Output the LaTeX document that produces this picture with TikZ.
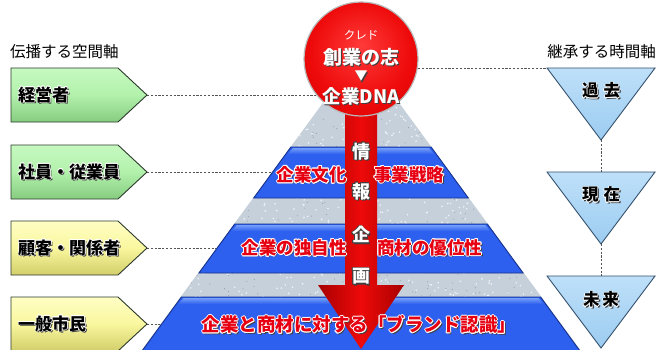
\documentclass[tikz,border=0pt]{standalone}
\usepackage{fontspec}
\newfontfamily\jp{Noto Sans CJK JP}
\usetikzlibrary{calc}
\definecolor{gfill}{HTML}{B2F1AC}
\definecolor{glight}{HTML}{C6F9C0}
\definecolor{gdark}{HTML}{86CC80}
\definecolor{yfill}{HTML}{F9F79E}
\definecolor{ylight}{HTML}{FFFEC4}
\definecolor{ydark}{HTML}{D2CE6A}
\definecolor{boxedge}{HTML}{2C3A2C}
\definecolor{tfill}{HTML}{9CCCF1}
\definecolor{tlight}{HTML}{BEE0F9}
\definecolor{tedge}{HTML}{34506C}
\definecolor{pgray}{HTML}{C6D0DA}
\definecolor{pspeck}{HTML}{EEF3F7}
\definecolor{pdot}{HTML}{97A3B1}
\definecolor{bmain}{HTML}{2D60EE}
\definecolor{blight}{HTML}{739CFA}
\definecolor{bedge}{HTML}{163290}
\definecolor{rlight}{HTML}{FF3A3A}
\definecolor{rmain}{HTML}{EE0A0A}
\definecolor{rmid}{HTML}{D20000}
\definecolor{rdark}{HTML}{A80000}
\definecolor{rtext}{HTML}{E60012}
\definecolor{dashc}{HTML}{555555}
\definecolor{shadowc}{HTML}{404040}
\pgfdeclareradialshading{redball}{\pgfpoint{0bp}{6bp}}{color(0bp)=(rlight); color(22bp)=(rmain); color(40bp)=(rmid); color(50bp)=(rdark)}
\newcommand\olay[4]{\makebox[0pt][l]{\hspace*{#1}\raisebox{#2}{\textcolor{#3}{#4}}}}
% #1 offset (number), #2 outline colour, #3 fill colour, #4 text
\newcommand\outl[4]{%
 \olay{1.5pt}{-1.5pt}{shadowc}{#4}%
 \olay{-#1pt}{0pt}{#2}{#4}\olay{#1pt}{0pt}{#2}{#4}%
 \olay{0pt}{#1pt}{#2}{#4}\olay{0pt}{-#1pt}{#2}{#4}%
 \olay{\dimexpr -#1pt*7/10\relax}{\dimexpr #1pt*7/10\relax}{#2}{#4}%
 \olay{\dimexpr #1pt*7/10\relax}{\dimexpr #1pt*7/10\relax}{#2}{#4}%
 \olay{\dimexpr -#1pt*7/10\relax}{\dimexpr -#1pt*7/10\relax}{#2}{#4}%
 \olay{\dimexpr #1pt*7/10\relax}{\dimexpr -#1pt*7/10\relax}{#2}{#4}%
 \textcolor{#3}{#4}}
\newcommand\shtx[2]{\olay{1.2pt}{-1.2pt}{shadowc}{#2}\textcolor{#1}{#2}}
\newcommand\pyrband[2]{%
 \fill[bmain] ({361-0.73*(#1-51)},#1) -- ({361+0.73*(#1-51)},#1) -- ({361+0.73*(#2-51)},#2) -- ({361-0.73*(#2-51)},#2) -- cycle;
 \shade[top color=blight, bottom color=bmain] ({363-0.73*(#1-51)},{#1+1.2}) -- ({359+0.73*(#1-51)},{#1+1.2}) -- ({359+0.73*(#1-44)},{#1+7}) -- ({363-0.73*(#1-44)},{#1+7}) -- cycle;
 \draw[bedge, line width=0.9pt] ({361-0.73*(#1-51)},#1) -- ({361+0.73*(#1-51)},#1) -- ({361+0.73*(#2-51)},#2) -- ({361-0.73*(#2-51)},#2) -- cycle;
}
\tikzset{
 dashline/.style={dashc, line width=0.7pt, dash pattern=on 2.2pt off 1.6pt},
 head/.style={inner sep=0pt, font=\jp\fontsize{15.5}{18}\selectfont},
 boxtxt/.style={inner sep=0pt, anchor=west, font=\jp\bfseries\fontsize{17}{19}\selectfont},
 tritxt/.style={inner sep=0pt, font=\jp\bfseries\fontsize{16.5}{19}\selectfont},
 bandtxt/.style={inner sep=0pt, font=\jp\bfseries\fontsize{17.5}{20}\selectfont},
 shafttxt/.style={inner sep=0pt, font=\jp\bfseries\fontsize{18}{20}\selectfont},
 circtxt/.style={inner sep=0pt, font=\jp\bfseries\fontsize{19}{21}\selectfont},
 boxpath/.style={draw=boxedge, line width=0.9pt},
 tripath/.style={draw=tedge, line width=0.9pt, top color=tlight, bottom color=tfill},
}
\begin{document}
\begin{tikzpicture}[x=1pt,y=-1pt]
\useasboundingbox (0,0) rectangle (659,349);
\fill[white] (0,0) rectangle (659,349);

% named anchor points
\coordinate (tip1) at (147,95);
\coordinate (tip2) at (147,172);
\coordinate (tip3) at (147,248);
\coordinate (tip4) at (147,324);
\coordinate (e2) at (361,172);
\coordinate (e3) at (361,248);
\coordinate (e4) at (361,324);
\coordinate (tl1) at (547,68);
\coordinate (ap1) at (601,140);
\coordinate (tt2) at (601,172);
\coordinate (ap2) at (601,244);
\coordinate (tt3) at (601,276);
\node[circle, minimum size=114pt, inner sep=0pt] (dna) at (361,59) {};

% dashed connectors (beneath everything)
\draw[dashline] (tip1) -- (tip1 -| dna.center);
\draw[dashline] (tip2) -- (e2);
\draw[dashline] (tip3) -- (e3);
\draw[dashline] (tip4) -- (e4);
\draw[dashline] (dna.center |- tl1) -- (tl1);
\draw[dashline] (ap1) -- (tt2);
\draw[dashline] (ap2) -- (tt3);

% pyramid (textured grey)
\begin{scope}
\clip (361,51) -- (138,355) -- (584,355) -- cycle;
\fill[pgray] (130,40) rectangle (590,355);
\pgfmathsetseed{12}
\foreach \k in {1,...,1400}{\pgfmathsetmacro\xx{140+442*rnd}\pgfmathsetmacro\yy{51+300*rnd}\fill[pspeck] (\xx,\yy) circle (0.9);}
\foreach \k in {1,...,700}{\pgfmathsetmacro\xx{140+442*rnd}\pgfmathsetmacro\yy{51+300*rnd}\fill[pdot] (\xx,\yy) circle (0.6);}
\end{scope}
\pyrband{147}{198}
\pyrband{224}{273}
\pyrband{297}{360}

% left arrow boxes
\foreach \yc/\cl/\ct/\cd in {95/gfill/glight/gdark,172/gfill/glight/gdark,248/yfill/ylight/ydark,324/yfill/ylight/ydark}{
 \path[boxpath, top color=\ct, bottom color=\cd, middle color=\cl] (11,\yc-27) -- (118,\yc-27) -- (147,\yc) -- (118,\yc+27) -- (11,\yc+27) -- cycle;
}
\node[boxtxt] (b1) at (18,95) {\outl{0.7}{white}{black}{経営者}};
\node[boxtxt] (b2) at (18,172) {\outl{0.7}{white}{black}{社員・従業員}};
\node[boxtxt] (b3) at (18,248) {\outl{0.7}{white}{black}{顧客・関係者}};
\node[boxtxt] (b4) at (18,324) {\outl{0.7}{white}{black}{一般市民}};

% headers
\node[head, anchor=west] (hl) at (10,52) {伝播する空間軸};
\node[head, anchor=east] (hr) at (656,52) {継承する時間軸};

% time triangles
\foreach \ty in {68,172,276}{
 \path[tripath] (547,\ty) -- (655,\ty) -- (601,\ty+72) -- cycle;
}
\node[tritxt] (t1) at (601,91) {\outl{0.7}{white}{black}{過\hspace{5pt}去}};
\node[tritxt] (t2) at (601,195) {\outl{0.7}{white}{black}{現\hspace{5pt}在}};
\node[tritxt] (t3) at (601,300) {\outl{0.7}{white}{black}{未\hspace{3pt}来}};

% red arrow
\shade[left color=rdark, right color=rdark, middle color=rmain] (345,100) -- (345,285) -- (318,285) -- (361,349) -- (404,285) -- (377,285) -- (377,100) -- cycle;

% red circle
\path[draw=gray!55, line width=1.2pt, shading=redball] (dna.center) circle (57);
\node[inner sep=0pt, font=\jp\fontsize{11.5}{12}\selectfont] (kr) at (361,35) {\textcolor{white}{クレド}};
\node[circtxt] (c1) at (361,58) {\shtx{white}{創業の志}};
\node[inner sep=0pt, font=\jp\fontsize{13}{14}\selectfont] (c2) at (361,77) {\shtx{white}{▼}};
\node[circtxt, font=\jp\bfseries\fontsize{18.5}{20}\selectfont] (c3) at (361,97) {\shtx{white}{企業DNA}};

% shaft texts
\node[shafttxt] (s1) at (361,152) {\outl{0.6}{shadowc}{white}{情}};
\node[shafttxt] (s2) at (361,192) {\outl{0.6}{shadowc}{white}{報}};
\node[shafttxt] (s3) at (361,235) {\outl{0.6}{shadowc}{white}{企}};
\node[shafttxt] (s4) at (361,277) {\outl{0.6}{shadowc}{white}{画}};

% band texts
\node[bandtxt, anchor=east] (w1) at (347,175) {\outl{0.9}{white}{rtext}{企業文化}};
\node[bandtxt, anchor=west] (w2) at (374,175) {\outl{0.9}{white}{rtext}{事業戦略}};
\node[bandtxt, anchor=east] (w3) at (347,248) {\outl{0.9}{white}{rtext}{企業の独自性}};
\node[bandtxt, anchor=west] (w4) at (377,248) {\outl{0.9}{white}{rtext}{商材の優位性}};
\node[bandtxt, font=\jp\bfseries\fontsize{18.5}{20}\selectfont] (w5) at (359,325) {\outl{0.9}{white}{rtext}{企業と商材に対する「ブランド認識」}};
\end{tikzpicture}
\end{document}
